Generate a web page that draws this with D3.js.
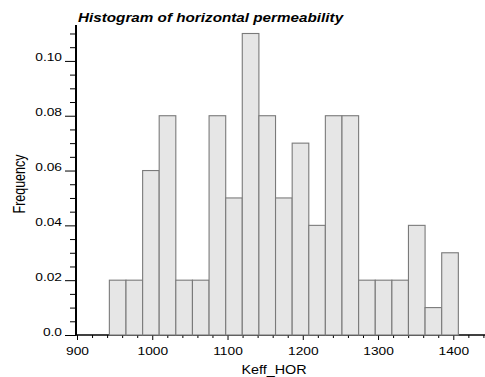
<!DOCTYPE html>
<html>
<head>
<meta charset="utf-8">
<script src="https://cdn.jsdelivr.net/npm/d3@7"></script>
<style>
  html, body { margin: 0; padding: 0; background: #fff; }
  svg { display: block; }
  text { font-family: "Liberation Sans", Arial, sans-serif; fill: #000; }
</style>
</head>
<body>
<div id="chart"></div>
<script>
// ---- data ----
const binEdges = [943.0, 965.1, 987.2, 1009.2, 1031.3, 1053.4, 1075.5, 1097.6, 1119.6, 1141.7,
                  1163.8, 1185.9, 1208.0, 1230.0, 1252.1, 1274.2, 1296.3, 1318.4, 1340.4, 1362.5,
                  1384.6, 1406.7];
const frequencies = [0.02, 0.02, 0.06, 0.08, 0.02, 0.02, 0.08, 0.05, 0.11, 0.08,
                     0.05, 0.07, 0.04, 0.08, 0.08, 0.02, 0.02, 0.02, 0.04, 0.01, 0.03];
const xMajorTicks = [900, 1000, 1100, 1200, 1300, 1400];
const xMinorTicks = [920, 940, 960, 980, 1020, 1040, 1060, 1080, 1120, 1140, 1160, 1180,
                     1220, 1240, 1260, 1280, 1320, 1340, 1360, 1380, 1420, 1440];
const yMajorTicks = [0, 0.02, 0.04, 0.06, 0.08, 0.10];
const yTickLabels = ["0.0", "0.02", "0.04", "0.06", "0.08", "0.10"];
const yMinorTicks = [0.005, 0.01, 0.015, 0.025, 0.03, 0.035, 0.045, 0.05, 0.055,
                     0.065, 0.07, 0.075, 0.085, 0.09, 0.095, 0.105, 0.11];
const titleText = "Histogram of horizontal permeability";
const xLabel = "Keff_HOR";
const yLabel = "Frequency";

// ---- layout ----
const W = 485, H = 377;
const SX = 1.25; // horizontal stretch of the lettering
const svg = d3.select("#chart").append("svg").attr("width", W).attr("height", H);

const x = d3.scaleLinear().domain([900, 1445]).range([77, 77 + 545 * 0.7526]);
const y = d3.scaleLinear().domain([0, 0.1131]).range([335, 25]);

// y minor ticks
svg.append("g").attr("transform", "translate(76,0)")
  .call(d3.axisLeft(y).tickValues(yMinorTicks).tickSize(6).tickSizeOuter(0).tickFormat(""))
  .call(g => g.select(".domain").remove())
  .call(g => g.selectAll("line").attr("stroke", "#000").attr("stroke-width", 1));

// y major ticks + labels
const yAx = svg.append("g").attr("transform", "translate(76,0)")
  .call(d3.axisLeft(y).tickValues(yMajorTicks).tickSize(11).tickSizeOuter(0)
        .tickFormat((d, i) => yTickLabels[i]))
  .call(g => g.select(".domain").remove());
yAx.selectAll("line").attr("stroke", "#000").attr("stroke-width", 1);
yAx.selectAll("text")
  .attr("x", -14 / SX).attr("dy", "0")
  .attr("transform", `scale(${SX},1)`)
  .style("font-size", "11px").attr("fill", "#000");

// x minor ticks
svg.append("g").attr("transform", "translate(0,335)")
  .call(d3.axisBottom(x).tickValues(xMinorTicks).tickSize(3).tickSizeOuter(0).tickFormat(""))
  .call(g => g.select(".domain").remove())
  .call(g => g.selectAll("line").attr("stroke", "#000").attr("stroke-width", 1));

// x major ticks + labels
const xAx = svg.append("g").attr("transform", "translate(0,335)")
  .call(d3.axisBottom(x).tickValues(xMajorTicks).tickSize(5).tickSizeOuter(0)
        .tickFormat(d3.format("d")))
  .call(g => g.select(".domain").remove());
xAx.selectAll("line").attr("stroke", "#000").attr("stroke-width", 1);
xAx.selectAll("text")
  .attr("y", 20).attr("dy", "0")
  .attr("transform", `scale(${SX},1)`)
  .style("font-size", "11px").attr("fill", "#000");

// axis lines
svg.append("line").attr("x1", 76).attr("x2", 76).attr("y1", y.range()[1]).attr("y2", 335.5)
  .attr("stroke", "#000").attr("stroke-width", 2);
svg.append("line").attr("x1", 75).attr("x2", W).attr("y1", 335).attr("y2", 335)
  .attr("stroke", "#000").attr("stroke-width", 1.6);

// bars
svg.append("g").selectAll("rect")
  .data(frequencies)
  .join("rect")
  .attr("x", (d, i) => x(binEdges[i]))
  .attr("width", (d, i) => x(binEdges[i + 1]) - x(binEdges[i]))
  .attr("y", d => y(d))
  .attr("height", d => y(0) - y(d))
  .attr("fill", "#e6e6e6")
  .attr("stroke", "#7a7a7a")
  .attr("stroke-width", 1.1);

// title
svg.append("text")
  .attr("transform", `translate(78,21.5) scale(1.22,1)`)
  .style("font-size", "12.5px").style("font-weight", "bold").style("font-style", "italic")
  .text(titleText);

// x label
svg.append("text")
  .attr("transform", `translate(274,374) scale(${SX * 0.92},1)`)
  .attr("text-anchor", "middle")
  .style("font-size", "12.5px")
  .text(xLabel);

// y label
svg.append("text")
  .attr("transform", `translate(25,184) scale(${SX},1) rotate(-90)`)
  .attr("text-anchor", "middle")
  .style("font-size", "12.5px")
  .text(yLabel);
</script>
</body>
</html>
